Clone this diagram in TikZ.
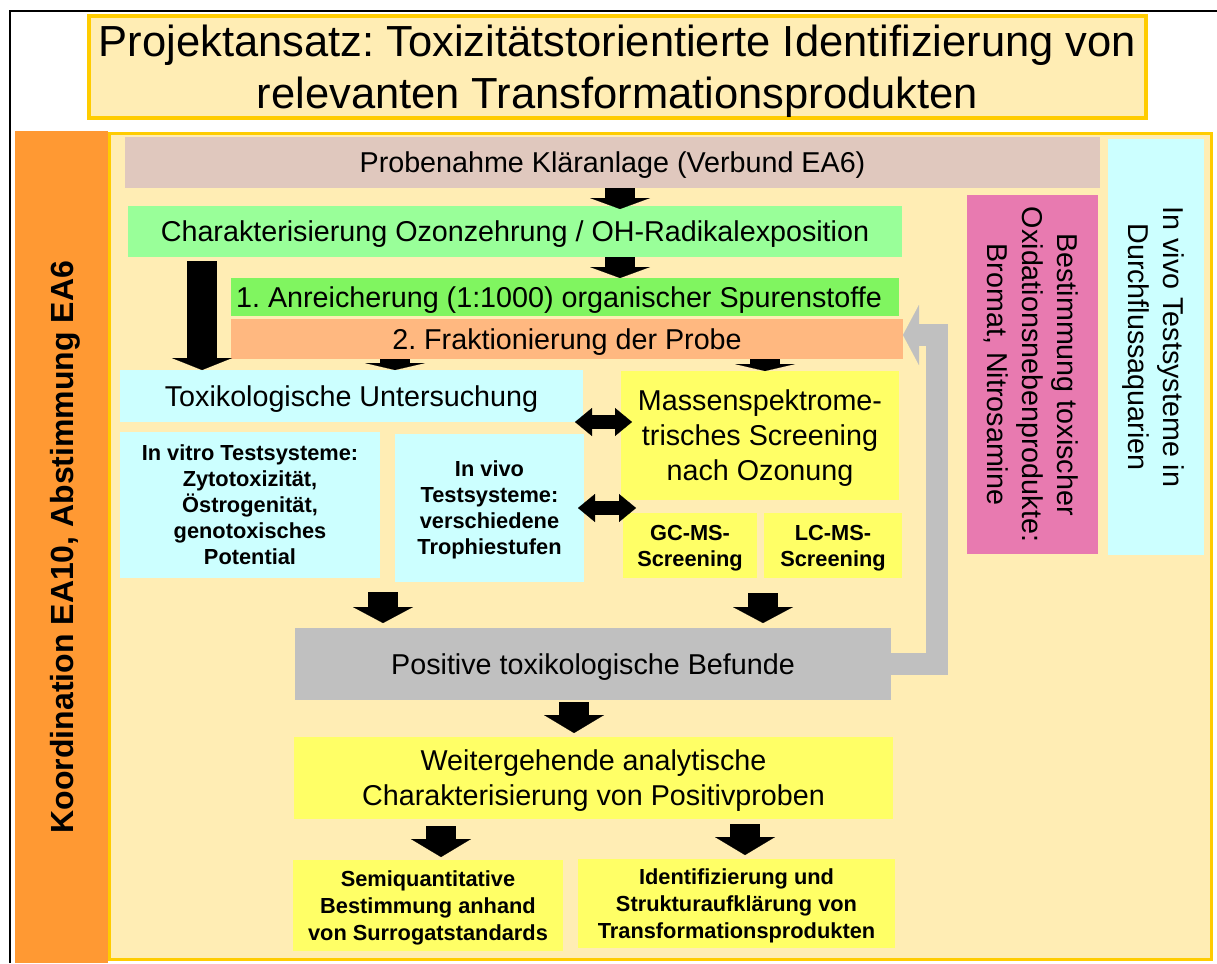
\documentclass[tikz,border=0pt]{standalone}
\usepackage{fontspec}
\setmainfont{Liberation Sans}
\frenchspacing
\usetikzlibrary{arrows.meta}
\definecolor{tpcream}{RGB}{255,237,180}
\definecolor{tpgold}{RGB}{255,204,0}
\definecolor{tporange}{RGB}{255,153,51}
\definecolor{tpbrown}{RGB}{224,200,190}
\definecolor{tplime}{RGB}{153,255,153}
\definecolor{tpgreen}{RGB}{128,245,96}
\definecolor{tpsalmon}{RGB}{255,184,128}
\definecolor{tpcyan}{RGB}{204,255,255}
\definecolor{tpyellow}{RGB}{255,255,102}
\definecolor{tpgray}{RGB}{192,192,192}
\definecolor{tppink}{RGB}{232,122,176}
\tikzset{
  blk/.style={line width=30pt, -{Triangle[length=#1, width=60pt, line width=0.1pt]}},
  blk/.default=18pt
}

\begin{document}
\frenchspacing
\begin{tikzpicture}[x=1pt, y=-1pt,
    box/.style={inner sep=0pt, outer sep=0pt, align=center, text depth=0pt, font={\fontsize{28.7}{35}\selectfont}},
    smallbox/.style={box, font={\bfseries\fontsize{21.8}{26}\selectfont}},
    lowbox/.style={box, font={\bfseries\fontsize{21.8}{26.7}\selectfont}},
    dbl/.style={line width=14pt, {Triangle[length=17pt, width=28pt, line width=0.1pt]}-{Triangle[length=17pt, width=28pt, line width=0.1pt]}},
    back/.style={line width=22pt, draw=tpgray, line join=miter, -{Triangle[length=16pt, width=60pt, line width=0.1pt]}}
  ]
  \useasboundingbox (0,0) rectangle (1217,963);
  \fill[white] (0,0) rectangle (1217,963);
  \draw[line width=2pt] (10,963) -- (10,11) -- (1217,11);

  \node[box, fill=tpcream, draw=tpgold, line width=4pt, minimum width=1057pt, minimum height=102pt, font={\fontsize{43.5}{52}\selectfont}] (title) at (617.5,67)
    {Projektansatz: Toxizitätstorientierte Identifizierung von\\relevanten Transformationsprodukten};

  \node[box, fill=tpcream, draw=tpgold, line width=3pt, minimum width=1102pt, minimum height=826pt] (main) at (660.5,546.5) {};
  \node[box, fill=tporange, rotate=90, minimum width=832pt, minimum height=93pt, font={\bfseries\fontsize{32}{38}\selectfont}] (coord) at (61.5,547) {Koordination EA10, Abstimmung EA6};

  \node[box, fill=tpbrown, minimum width=975pt, minimum height=51pt] (probe) at (612.5,162.5) {Probenahme Kläranlage (Verbund EA6)};
  \node[box, fill=tplime, minimum width=774pt, minimum height=51pt] (char) at (515,231.5) {Charakterisierung Ozonzehrung / OH-Radikalexposition};
  \node[box, fill=tpgreen, minimum width=668pt, minimum height=38pt] (anr) at (565,297) {1. Anreicherung (1:1000) organischer Spurenstoffe\hspace*{12pt}};
  \node[box, fill=tpsalmon, minimum width=672pt, minimum height=40pt] (frak) at (567,339) {2. Fraktionierung der Probe};

  \node[box, fill=tpcyan, minimum width=463pt, minimum height=52pt] (tox) at (351.5,396) {Toxikologische Untersuchung};
  \node[smallbox, fill=tpcyan, minimum width=260pt, minimum height=146pt] (invitro) at (250,505)
    {In vitro Testsysteme:\\Zytotoxizität,\\Östrogenität,\\genotoxisches\\Potential};
  \node[smallbox, fill=tpcyan, minimum width=189pt, minimum height=148pt] (invivo) at (489.5,508)
    {In vivo\\Testsysteme:\\verschiedene\\Trophiestufen};

  \node[box, fill=tpyellow, minimum width=278pt, minimum height=129pt] (mass) at (760,435.5)
    {Massenspektrome-\\trisches Screening\\nach Ozonung};
  \node[smallbox, fill=tpyellow, minimum width=134pt, minimum height=65pt] (gc) at (690,545.5) {GC-MS-\\Screening};
  \node[smallbox, fill=tpyellow, minimum width=138pt, minimum height=65pt] (lc) at (833,545.5) {LC-MS-\\Screening};

  \node[box, fill=tpgray, minimum width=596pt, minimum height=72pt] (pos) at (593,664) {Positive toxikologische Befunde};
  \node[box, fill=tpyellow, minimum width=599pt, minimum height=82pt] (weiter) at (593.5,778)
    {Weitergehende analytische\\Charakterisierung von Positivproben};
  \node[lowbox, fill=tpyellow, minimum width=270pt, minimum height=91pt] (semi) at (428,905.5)
    {Semiquantitative\\Bestimmung anhand\\von Surrogatstandards};
  \node[lowbox, fill=tpyellow, minimum width=317pt, minimum height=89pt] (ident) at (736.5,903.5)
    {Identifizierung und\\Strukturaufklärung von\\Transformationsprodukten};

  \node[box, fill=tppink, rotate=-90, minimum width=359pt, minimum height=131pt] (neben) at (1032.5,374.5)
    {Bestimmung toxischer\\Oxidationsnebenprodukte:\\Bromat, Nitrosamine};
  \node[box, fill=tpcyan, rotate=-90, minimum width=416pt, minimum height=96pt] (aqua) at (1156,347)
    {In vivo Testsysteme in\\Durchflussaquarien};

  \coordinate (xa) at (620,0);
  \coordinate (xb) at (202,0);
  \coordinate (xc) at (395,0);
  \coordinate (xd) at (765,0);
  \coordinate (xe) at (383,0);
  \coordinate (xf) at (763,0);
  \coordinate (xg) at (574,0);
  \coordinate (xh) at (441,0);
  \coordinate (xi) at (745,0);
  \coordinate (turn) at (937,335);

  \draw[blk=11pt, shorten >=-3pt] (probe.south -| xa) -- (char.north -| xa);
  \draw[blk=11pt] (char.south -| xa) -- (anr.north -| xa);
  \draw[blk=12pt, shorten <=4pt] (char.south -| xb) -- (tox.north -| xb);
  \draw[blk=7pt] (frak.south -| xc) -- (tox.north -| xc);
  \draw[blk=7pt] (frak.south -| xd) -- (mass.north -| xd);
  \draw[blk=16pt, shorten <=14pt, shorten >=5pt] (invitro.south -| xe) -- (pos.north -| xe);
  \draw[blk=16pt, shorten <=15pt, shorten >=5pt] (gc.south -| xf) -- (pos.north -| xf);
  \draw[blk, shorten <=2pt, shorten >=4pt] (pos.south -| xg) -- (weiter.north -| xg);
  \draw[blk, shorten <=7pt, shorten >=3pt] (weiter.south -| xh) -- (semi.north -| xh);
  \draw[blk, shorten <=5pt, shorten >=4pt] (weiter.south -| xi) -- (ident.north -| xi);

  \draw[dbl, shorten <=-8pt, shorten >=-11pt] (tox.south east) -- (tox.south east -| mass.west);
  \draw[dbl, shorten <=-6pt, shorten >=-13pt] (invivo.east) -- (invivo.east -| gc.west);

  \draw[back] (pos.east) -| (turn) -- (turn -| frak.east);
\end{tikzpicture}
\end{document}
